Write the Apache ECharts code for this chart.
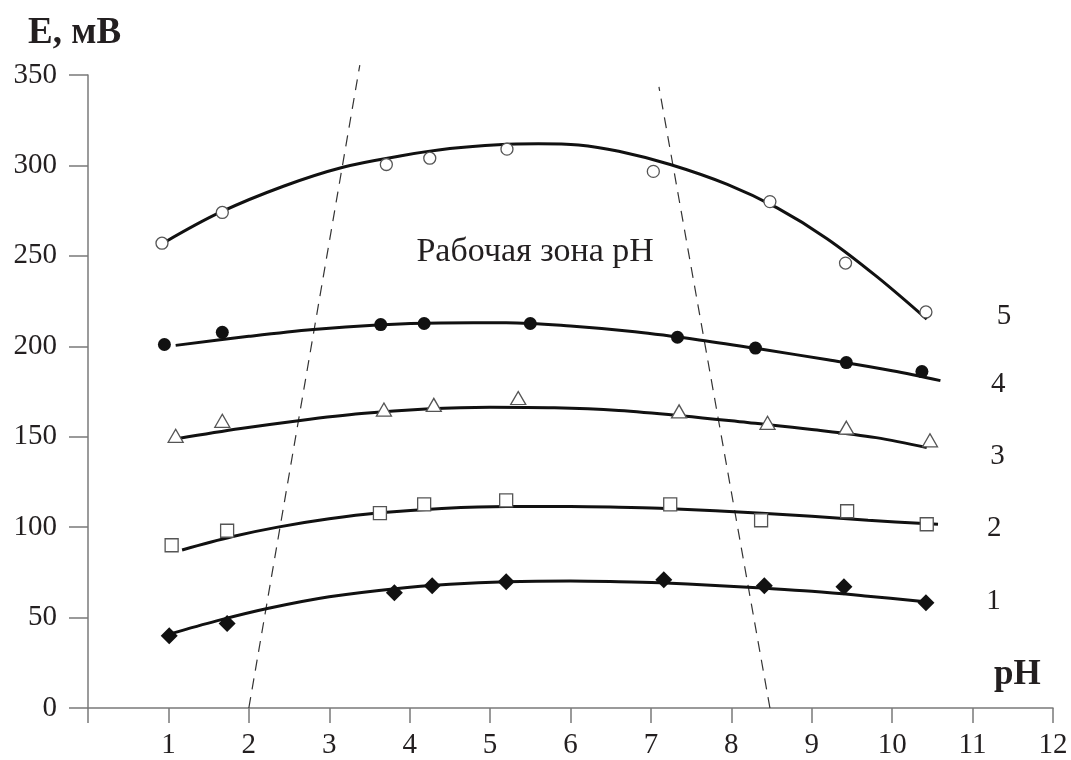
<!DOCTYPE html>
<html><head><meta charset="utf-8">
<script src="https://cdn.jsdelivr.net/npm/echarts@6/dist/echarts.min.js"></script>
<style>html,body{margin:0;padding:0;background:#fff}#c{width:1071px;height:760px}</style>
</head><body><div id="c"></div>
<script>
// ---- data ----
const xTicks = [1,2,3,4,5,6,7,8,9,10,11,12];
const yTicks = [0,50,100,150,200,250,300,350];

// measured points [pH, E]
const pts1 = [[1.01,40],[1.73,46.7],[3.81,63.7],[4.28,67.6],[5.2,69.8],[7.16,70.9],[8.41,67.6],[9.40,67],[10.42,58.2]];
const pts2 = [[1.04,90],[1.73,98],[3.63,107.7],[4.18,112.6],[5.2,114.8],[7.24,112.6],[8.37,103.8],[9.44,108.8],[10.43,101.6]];
const pts3 = [[1.09,150.5],[1.67,158.8],[3.68,165],[4.30,167.6],[5.35,171.4],[7.35,164],[8.45,157.7],[9.43,155],[10.47,148]];
const pts4 = [[0.95,201],[1.67,207.7],[3.64,212],[4.18,212.6],[5.5,212.6],[7.33,205],[8.30,199],[9.43,191],[10.37,186]];
const pts5 = [[0.92,257],[1.67,274],[3.71,300.5],[4.25,304],[5.21,309],[7.03,296.7],[8.48,280],[9.42,246],[10.42,219]];

// fitted curves
const fit1 = [[1.02,41],[1.6,48.2],[2.23,55],[3.0,61.5],[3.82,66],[4.5,68.4],[5.21,69.8],[6.0,70.2],[6.6,69.8],[7.11,69.2],[7.8,67.8],[8.38,66.3],[9.0,64.5],[9.7,61.8],[10.41,58.8]];
const fit2 = [[1.17,87.4],[1.8,94.8],[2.36,100],[3.0,104.6],[3.63,107.9],[4.4,110.3],[5.21,111.4],[6.0,111.4],[6.6,111],[7.11,110.4],[7.8,109],[8.38,107.7],[9.0,106],[9.7,103.8],[10.57,101.6]];
const fit3 = [[1.12,149],[1.9,154.5],[2.64,159],[3.4,162.8],[4.2,165.3],[5.0,166.3],[5.8,166],[6.6,164.5],[7.4,161.5],[8.2,157.8],[9.0,154],[9.8,149.5],[10.43,144]];
const fit4 = [[1.09,200.5],[2.0,205.5],[2.80,209.3],[3.6,211.8],[4.38,212.9],[5.2,213],[6.0,211.2],[6.8,208],[7.6,203.5],[8.4,198.2],[9.2,192.5],[10.0,186.5],[10.6,181]];
const fit5 = [[0.96,257.7],[1.64,274],[2.43,288.5],[3.17,299],[3.88,305.2],[4.50,309.3],[5.1,311.5],[5.6,312],[6.1,311.3],[6.6,307.8],[7.24,300.5],[7.95,289.5],[8.57,276.5],[9.19,259.5],[9.81,238.5],[10.43,215]];

// working-zone boundaries (dashed)
const zoneLeft = [[2.0,0],[3.38,355.5]];
const zoneRight = [[8.48,0],[7.10,343.4]];

// curve number labels [pH, E, text]
const curveLabels = [[11.26,58.8,'1'],[11.27,99.5,'2'],[11.31,139,'3'],[11.32,179,'4'],[11.39,216.5,'5']];
const zoneLabel = [[5.56,252,'Рабочая зона pH']];

const yTitle = 'E, мВ';
const xTitle = 'pH';

// ---- chart ----
const FONT = 'Liberation Serif';
const chart = echarts.init(document.getElementById('c'), null, {renderer:'canvas'});
const axisGray = '#7a7a7a';
const txt = '#231f20';

function fitSeries(d){
  return {type:'line', data:d, smooth:0.35, symbol:'none', silent:true,
    lineStyle:{color:'#111', width:3}, z:3};
}
function ptSeries(d, symbol, size, filled){
  return {type:'scatter', data:d, symbol:symbol, symbolSize:size, silent:true, z:4,
    itemStyle: filled ? {color:'#111', borderWidth:0, opacity:1} : {color:'#fff', borderColor:'#555', borderWidth:1.3, opacity:1}};
}
function dashSeries(d){
  return {type:'line', data:d, symbol:'none', clip:false, silent:true,
    lineStyle:{color:'#333', width:1.2, type:[11,8]}, z:2};
}

chart.setOption({
  animation:false,
  backgroundColor:'#fff',
  grid:{left:88, right:18, top:75, bottom:48, containLabel:false},
  xAxis:{type:'value', min:0, max:12, interval:1,
    axisLine:{show:true, onZero:false, lineStyle:{color:axisGray, width:1.5}},
    axisTick:{show:true, length:15, lineStyle:{color:axisGray, width:1.5}},
    splitLine:{show:false},
    axisLabel:{fontFamily:FONT, fontSize:29, color:txt, margin:23,
      formatter:v => (xTicks.indexOf(v) >= 0 ? String(v) : '')}
  },
  yAxis:{type:'value', min:0, max:350, interval:50,
    axisLine:{show:true, onZero:false, lineStyle:{color:axisGray, width:1.5}},
    axisTick:{show:true, length:19, lineStyle:{color:axisGray, width:1.5}},
    splitLine:{show:false},
    axisLabel:{fontFamily:FONT, fontSize:29, color:txt, margin:31,
      formatter:v => (yTicks.indexOf(v) >= 0 ? String(v) : '')}
  },
  graphic:[
    {type:'text', left:28, top:15, style:{text:yTitle, font:'bold 37px "Liberation Serif"', fill:txt}},
    {type:'text', left:994, top:657, style:{text:xTitle, font:'bold 35px "Liberation Serif"', fill:txt}}
  ],
  series:[
    dashSeries(zoneLeft), dashSeries(zoneRight),
    fitSeries(fit1), fitSeries(fit2), fitSeries(fit3), fitSeries(fit4), fitSeries(fit5),
    ptSeries(pts1, 'diamond', [17,17], true),
    ptSeries(pts2, 'rect', [13,13], false),
    ptSeries(pts3, 'triangle', [15,13], false),
    ptSeries(pts4, 'circle', 13, true),
    ptSeries(pts5, 'circle', 12, false),
    {type:'scatter', data:curveLabels, symbolSize:0, silent:true, itemStyle:{opacity:1},
      label:{show:true, position:'inside', formatter:p => p.data[2], fontFamily:FONT, fontSize:29, color:txt}},
    {type:'scatter', data:zoneLabel, symbolSize:0, silent:true, itemStyle:{opacity:1},
      label:{show:true, position:'inside', formatter:p => p.data[2], fontFamily:FONT, fontSize:34, color:txt}}
  ]
});
</script></body></html>
